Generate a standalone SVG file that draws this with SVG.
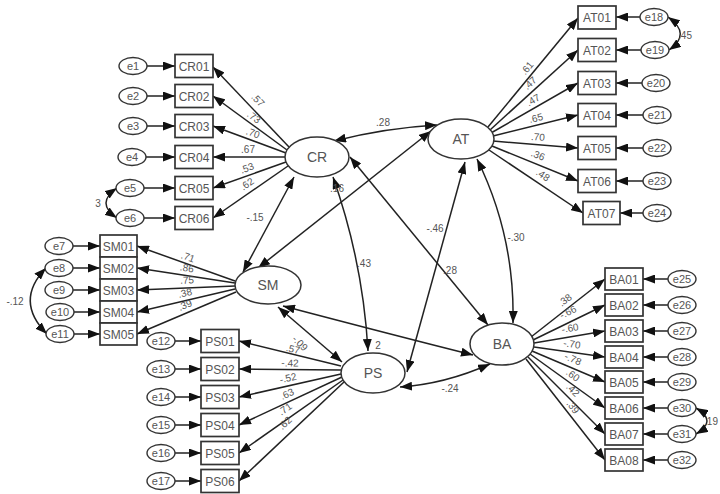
<svg xmlns="http://www.w3.org/2000/svg" width="720" height="494" viewBox="0 0 720 494">
<defs>
<marker id="ah" viewBox="0 0 12 9" refX="12" refY="4.5" markerWidth="12" markerHeight="9" markerUnits="userSpaceOnUse" orient="auto-start-reverse"><path d="M0,0 L12,4.5 L0,9 z" fill="#111"/></marker>
<style>
.bx{fill:#fff;stroke:#333;stroke-width:1.7}
.lv{fill:#fff;stroke:#333;stroke-width:1.5}
.er{fill:#fff;stroke:#333;stroke-width:1.4}
.t{font-family:"Liberation Sans",Arial,sans-serif;fill:#555;text-anchor:middle}
.bt{font-size:12px}
.lt{font-size:14px}
.et{font-size:11px}
.c{font-family:"Liberation Sans",Arial,sans-serif;fill:#555;font-size:10px;text-anchor:middle}
.a{fill:none;stroke:#222;stroke-width:1.5;marker-end:url(#ah)}
.d{fill:none;stroke:#222;stroke-width:1.5;marker-end:url(#ah);marker-start:url(#ah)}
</style>
</defs>
<rect width="720" height="494" fill="#fff"/>

<g id="connectors">
<line class="a" x1="289" y1="147" x2="213" y2="67"/>
<line class="a" x1="287" y1="150" x2="213" y2="96"/>
<line class="a" x1="286" y1="153" x2="213" y2="126"/>
<line class="a" x1="285" y1="157" x2="213" y2="157"/>
<line class="a" x1="286" y1="162" x2="213" y2="188"/>
<line class="a" x1="288" y1="166" x2="213" y2="218"/>
<line class="a" x1="488" y1="127" x2="578" y2="18"/>
<line class="a" x1="490" y1="130" x2="578" y2="50"/>
<line class="a" x1="491" y1="133" x2="578" y2="83"/>
<line class="a" x1="493" y1="136" x2="578" y2="115"/>
<line class="a" x1="493" y1="141" x2="578" y2="148"/>
<line class="a" x1="492" y1="146" x2="578" y2="181"/>
<line class="a" x1="489" y1="150" x2="583" y2="213"/>
<line class="a" x1="235" y1="281" x2="137" y2="246"/>
<line class="a" x1="235" y1="283" x2="137" y2="268"/>
<line class="a" x1="235" y1="286" x2="137" y2="290"/>
<line class="a" x1="235" y1="289" x2="137" y2="312"/>
<line class="a" x1="236" y1="292" x2="137" y2="334"/>
<line class="a" x1="341" y1="366" x2="239" y2="341"/>
<line class="a" x1="341" y1="370" x2="239" y2="369"/>
<line class="a" x1="341" y1="374" x2="239" y2="397"/>
<line class="a" x1="342" y1="377" x2="239" y2="425"/>
<line class="a" x1="343" y1="380" x2="239" y2="453"/>
<line class="a" x1="344" y1="382" x2="239" y2="481"/>
<line class="a" x1="531" y1="337" x2="605" y2="279"/>
<line class="a" x1="533" y1="340" x2="605" y2="305"/>
<line class="a" x1="534" y1="343" x2="605" y2="331"/>
<line class="a" x1="534" y1="347" x2="605" y2="357"/>
<line class="a" x1="532" y1="351" x2="605" y2="382"/>
<line class="a" x1="530" y1="354" x2="605" y2="408"/>
<line class="a" x1="528" y1="357" x2="605" y2="434"/>
<line class="a" x1="526" y1="359" x2="605" y2="460"/>
<line class="a" x1="147" y1="66" x2="175" y2="66"/>
<line class="a" x1="147" y1="96" x2="175" y2="96"/>
<line class="a" x1="147" y1="126" x2="175" y2="126"/>
<line class="a" x1="146" y1="157" x2="175" y2="157"/>
<line class="a" x1="144" y1="188" x2="175" y2="188"/>
<line class="a" x1="144" y1="218" x2="175" y2="218"/>
<line class="a" x1="640" y1="17" x2="616" y2="17"/>
<line class="a" x1="641" y1="50" x2="616" y2="50"/>
<line class="a" x1="642" y1="83" x2="616" y2="83"/>
<line class="a" x1="643" y1="115" x2="616" y2="115"/>
<line class="a" x1="643" y1="148" x2="616" y2="148"/>
<line class="a" x1="643" y1="181" x2="616" y2="181"/>
<line class="a" x1="643" y1="213" x2="620" y2="213"/>
<line class="a" x1="73" y1="246" x2="100" y2="246"/>
<line class="a" x1="73" y1="268" x2="100" y2="268"/>
<line class="a" x1="73" y1="290" x2="100" y2="290"/>
<line class="a" x1="74" y1="312" x2="100" y2="312"/>
<line class="a" x1="74" y1="334" x2="100" y2="334"/>
<line class="a" x1="175" y1="341" x2="201" y2="341"/>
<line class="a" x1="175" y1="369" x2="201" y2="369"/>
<line class="a" x1="175" y1="397" x2="201" y2="397"/>
<line class="a" x1="175" y1="425" x2="201" y2="425"/>
<line class="a" x1="175" y1="453" x2="201" y2="453"/>
<line class="a" x1="175" y1="481" x2="201" y2="481"/>
<line class="a" x1="668" y1="279" x2="643" y2="279"/>
<line class="a" x1="668" y1="305" x2="643" y2="305"/>
<line class="a" x1="668" y1="331" x2="643" y2="331"/>
<line class="a" x1="668" y1="357" x2="643" y2="357"/>
<line class="a" x1="668" y1="382" x2="643" y2="382"/>
<line class="a" x1="668" y1="408" x2="643" y2="408"/>
<line class="a" x1="668" y1="434" x2="643" y2="434"/>
<line class="a" x1="668" y1="460" x2="643" y2="460"/>
<path class="d" d="M117,188 Q95,203 117,218"/>
<path class="d" d="M46,268 Q14,301 47,334"/>
<path class="d" d="M668,17 Q692,34 669,50"/>
<path class="d" d="M696,408 Q718,421 696,434"/>
<path class="d" d="M334,141 Q385,128 437,125"/>
<line class="d" x1="294" y1="177" x2="243" y2="272"/>
<path class="d" d="M333,177 Q363,262 368,351"/>
<line class="d" x1="350" y1="157" x2="488" y2="325"/>
<line class="d" x1="431" y1="131" x2="258" y2="268"/>
<line class="d" x1="465" y1="162" x2="407" y2="372"/>
<path class="d" d="M477,159 Q515,236 513,323"/>
<line class="d" x1="278" y1="307" x2="342" y2="362"/>
<path class="d" d="M283,306 Q397,336 473,355"/>
<path class="d" d="M400,387 Q445,384 490,364"/>
</g>

<g id="labels">
<text class="c" transform="translate(258,100) rotate(46)" y="3.5">.57</text>
<text class="c" transform="translate(254,117) rotate(36)" y="3.5">.73</text>
<text class="c" transform="translate(253,133) rotate(20)" y="3.5">.70</text>
<text class="c" transform="translate(248,149)" y="3.5">.67</text>
<text class="c" transform="translate(247,168) rotate(-20)" y="3.5">.53</text>
<text class="c" transform="translate(247,184) rotate(-35)" y="3.5">.62</text>
<text class="c" transform="translate(527,68) rotate(-50)" y="3.5">.61</text>
<text class="c" transform="translate(530,83) rotate(-42)" y="3.5">.47</text>
<text class="c" transform="translate(533,100) rotate(-30)" y="3.5">.47</text>
<text class="c" transform="translate(536,118) rotate(-14)" y="3.5">.65</text>
<text class="c" transform="translate(538,137) rotate(5)" y="3.5">.70</text>
<text class="c" transform="translate(538,155) rotate(22)" y="3.5">.36</text>
<text class="c" transform="translate(543,175) rotate(34)" y="3.5">.48</text>
<text class="c" transform="translate(188,257) rotate(20)" y="3.5">.71</text>
<text class="c" transform="translate(187,268) rotate(9)" y="3.5">.86</text>
<text class="c" transform="translate(187,280) rotate(-2)" y="3.5">.75</text>
<text class="c" transform="translate(185,293) rotate(-13)" y="3.5">.38</text>
<text class="c" transform="translate(185,305) rotate(-23)" y="3.5">.39</text>
<text class="c" transform="translate(293,349) rotate(14)" y="3.5">.57</text>
<text class="c" transform="translate(290,363) rotate(1)" y="3.5">-.42</text>
<text class="c" transform="translate(288,378) rotate(-13)" y="3.5">-.52</text>
<text class="c" transform="translate(287,394) rotate(-25)" y="3.5">.63</text>
<text class="c" transform="translate(285,409) rotate(-35)" y="3.5">.71</text>
<text class="c" transform="translate(285,423) rotate(-43)" y="3.5">.62</text>
<text class="c" transform="translate(565,300) rotate(-38)" y="3.5">.38</text>
<text class="c" transform="translate(568,312) rotate(-26)" y="3.5">-.66</text>
<text class="c" transform="translate(570,328) rotate(-10)" y="3.5">-.60</text>
<text class="c" transform="translate(572,344) rotate(8)" y="3.5">-.70</text>
<text class="c" transform="translate(573,359) rotate(23)" y="3.5">-.78</text>
<text class="c" transform="translate(573,375) rotate(36)" y="3.5">.60</text>
<text class="c" transform="translate(573,390) rotate(45)" y="3.5">.42</text>
<text class="c" transform="translate(573,407) rotate(52)" y="3.5">.39</text>
<text class="c" x="383" y="126">.28</text>
<text class="c" x="255" y="221">-.15</text>
<text class="c" x="337" y="192">.16</text>
<text class="c" x="364" y="267">.43</text>
<text class="c" x="435" y="232">-.46</text>
<text class="c" x="450" y="274">.28</text>
<text class="c" x="516" y="241">-.30</text>
<text class="c" transform="translate(300,343) rotate(45)" y="3.5">-.09</text>
<text class="c" x="378" y="349">2</text>
<text class="c" x="450" y="392">-.24</text>
<text class="c" x="98" y="207">3</text>
<text class="c" x="15" y="305">-.12</text>
<text class="c" x="685" y="39">.45</text>
<text class="c" x="718" y="425" style="text-anchor:end">.19</text>
</g>

<g id="CR"><ellipse class="lv" cx="317" cy="157" rx="32" ry="20"/><text class="t lt" x="317" y="162">CR</text></g>
<g id="AT"><ellipse class="lv" cx="461" cy="139" rx="33" ry="20"/><text class="t lt" x="461" y="144">AT</text></g>
<g id="SM"><ellipse class="lv" cx="268" cy="285" rx="33" ry="19"/><text class="t lt" x="268" y="290">SM</text></g>
<g id="PS"><ellipse class="lv" cx="373" cy="373" rx="32" ry="20"/><text class="t lt" x="373" y="378">PS</text></g>
<g id="BA"><ellipse class="lv" cx="502" cy="344" rx="32" ry="21"/><text class="t lt" x="502" y="349">BA</text></g>

<g id="CR01"><rect class="bx" x="175" y="54.5" width="38" height="23"/><text class="t bt" x="194" y="70.5">CR01</text></g>
<g id="CR02"><rect class="bx" x="175" y="84.5" width="38" height="23"/><text class="t bt" x="194" y="100.5">CR02</text></g>
<g id="CR03"><rect class="bx" x="175" y="114.5" width="38" height="23"/><text class="t bt" x="194" y="130.5">CR03</text></g>
<g id="CR04"><rect class="bx" x="175" y="145.5" width="38" height="23"/><text class="t bt" x="194" y="161.5">CR04</text></g>
<g id="CR05"><rect class="bx" x="175" y="176.5" width="38" height="23"/><text class="t bt" x="194" y="192.5">CR05</text></g>
<g id="CR06"><rect class="bx" x="175" y="206.5" width="38" height="23"/><text class="t bt" x="194" y="222.5">CR06</text></g>

<g id="AT01"><rect class="bx" x="578" y="6" width="38" height="23"/><text class="t bt" x="597" y="22">AT01</text></g>
<g id="AT02"><rect class="bx" x="578" y="38.5" width="38" height="23"/><text class="t bt" x="597" y="54.5">AT02</text></g>
<g id="AT03"><rect class="bx" x="578" y="71.5" width="38" height="23"/><text class="t bt" x="597" y="87.5">AT03</text></g>
<g id="AT04"><rect class="bx" x="578" y="103.5" width="38" height="23"/><text class="t bt" x="597" y="119.5">AT04</text></g>
<g id="AT05"><rect class="bx" x="578" y="136.5" width="38" height="23"/><text class="t bt" x="597" y="152.5">AT05</text></g>
<g id="AT06"><rect class="bx" x="578" y="169.5" width="38" height="23"/><text class="t bt" x="597" y="185.5">AT06</text></g>
<g id="AT07"><rect class="bx" x="583" y="201.5" width="37" height="23"/><text class="t bt" x="601.5" y="217.5">AT07</text></g>

<g id="SM01"><rect class="bx" x="100" y="235" width="37" height="22"/><text class="t bt" x="118.5" y="250.5">SM01</text></g>
<g id="SM02"><rect class="bx" x="100" y="257" width="37" height="22"/><text class="t bt" x="118.5" y="272.5">SM02</text></g>
<g id="SM03"><rect class="bx" x="100" y="279" width="37" height="22"/><text class="t bt" x="118.5" y="294.5">SM03</text></g>
<g id="SM04"><rect class="bx" x="100" y="301" width="37" height="22"/><text class="t bt" x="118.5" y="316.5">SM04</text></g>
<g id="SM05"><rect class="bx" x="100" y="323" width="37" height="22"/><text class="t bt" x="118.5" y="338.5">SM05</text></g>

<g id="PS01"><rect class="bx" x="201" y="329.5" width="38" height="23"/><text class="t bt" x="220" y="345.5">PS01</text></g>
<g id="PS02"><rect class="bx" x="201" y="357.5" width="38" height="23"/><text class="t bt" x="220" y="373.5">PS02</text></g>
<g id="PS03"><rect class="bx" x="201" y="385.5" width="38" height="23"/><text class="t bt" x="220" y="401.5">PS03</text></g>
<g id="PS04"><rect class="bx" x="201" y="413.5" width="38" height="23"/><text class="t bt" x="220" y="429.5">PS04</text></g>
<g id="PS05"><rect class="bx" x="201" y="441.5" width="38" height="23"/><text class="t bt" x="220" y="457.5">PS05</text></g>
<g id="PS06"><rect class="bx" x="201" y="469.5" width="38" height="23"/><text class="t bt" x="220" y="485.5">PS06</text></g>

<g id="BA01"><rect class="bx" x="605" y="268" width="38" height="22"/><text class="t bt" x="624" y="283.5">BA01</text></g>
<g id="BA02"><rect class="bx" x="605" y="294" width="38" height="22"/><text class="t bt" x="624" y="309.5">BA02</text></g>
<g id="BA03"><rect class="bx" x="605" y="320" width="38" height="22"/><text class="t bt" x="624" y="335.5">BA03</text></g>
<g id="BA04"><rect class="bx" x="605" y="346" width="38" height="22"/><text class="t bt" x="624" y="361.5">BA04</text></g>
<g id="BA05"><rect class="bx" x="605" y="371" width="38" height="22"/><text class="t bt" x="624" y="386.5">BA05</text></g>
<g id="BA06"><rect class="bx" x="605" y="397" width="38" height="22"/><text class="t bt" x="624" y="412.5">BA06</text></g>
<g id="BA07"><rect class="bx" x="605" y="423" width="38" height="22"/><text class="t bt" x="624" y="438.5">BA07</text></g>
<g id="BA08"><rect class="bx" x="605" y="449" width="38" height="22"/><text class="t bt" x="624" y="464.5">BA08</text></g>

<g id="e1"><ellipse class="er" cx="133" cy="66" rx="14" ry="8.5"/><text class="t et" x="133" y="70">e1</text></g>
<g id="e2"><ellipse class="er" cx="133" cy="96" rx="14" ry="8.5"/><text class="t et" x="133" y="100">e2</text></g>
<g id="e3"><ellipse class="er" cx="133" cy="126" rx="14" ry="8.5"/><text class="t et" x="133" y="130">e3</text></g>
<g id="e4"><ellipse class="er" cx="132" cy="157" rx="14" ry="8.5"/><text class="t et" x="132" y="161">e4</text></g>
<g id="e5"><ellipse class="er" cx="130" cy="188" rx="14" ry="8.5"/><text class="t et" x="130" y="192">e5</text></g>
<g id="e6"><ellipse class="er" cx="130" cy="218" rx="14" ry="8.5"/><text class="t et" x="130" y="222">e6</text></g>
<g id="e7"><ellipse class="er" cx="59" cy="246" rx="14" ry="8.5"/><text class="t et" x="59" y="250">e7</text></g>
<g id="e8"><ellipse class="er" cx="59" cy="268" rx="14" ry="8.5"/><text class="t et" x="59" y="272">e8</text></g>
<g id="e9"><ellipse class="er" cx="59" cy="290" rx="14" ry="8.5"/><text class="t et" x="59" y="294">e9</text></g>
<g id="e10"><ellipse class="er" cx="60" cy="312" rx="14" ry="8.5"/><text class="t et" x="60" y="316">e10</text></g>
<g id="e11"><ellipse class="er" cx="60" cy="334" rx="14" ry="8.5"/><text class="t et" x="60" y="338">e11</text></g>
<g id="e12"><ellipse class="er" cx="161" cy="341" rx="14" ry="8.5"/><text class="t et" x="161" y="345">e12</text></g>
<g id="e13"><ellipse class="er" cx="161" cy="369" rx="14" ry="8.5"/><text class="t et" x="161" y="373">e13</text></g>
<g id="e14"><ellipse class="er" cx="161" cy="397" rx="14" ry="8.5"/><text class="t et" x="161" y="401">e14</text></g>
<g id="e15"><ellipse class="er" cx="161" cy="425" rx="14" ry="8.5"/><text class="t et" x="161" y="429">e15</text></g>
<g id="e16"><ellipse class="er" cx="161" cy="453" rx="14" ry="8.5"/><text class="t et" x="161" y="457">e16</text></g>
<g id="e17"><ellipse class="er" cx="161" cy="481" rx="14" ry="8.5"/><text class="t et" x="161" y="485">e17</text></g>
<g id="e18"><ellipse class="er" cx="654" cy="17" rx="14" ry="8.5"/><text class="t et" x="654" y="21">e18</text></g>
<g id="e19"><ellipse class="er" cx="655" cy="50" rx="14" ry="8.5"/><text class="t et" x="655" y="54">e19</text></g>
<g id="e20"><ellipse class="er" cx="656" cy="83" rx="14" ry="8.5"/><text class="t et" x="656" y="87">e20</text></g>
<g id="e21"><ellipse class="er" cx="657" cy="115" rx="14" ry="8.5"/><text class="t et" x="657" y="119">e21</text></g>
<g id="e22"><ellipse class="er" cx="657" cy="148" rx="14" ry="8.5"/><text class="t et" x="657" y="152">e22</text></g>
<g id="e23"><ellipse class="er" cx="657" cy="181" rx="14" ry="8.5"/><text class="t et" x="657" y="185">e23</text></g>
<g id="e24"><ellipse class="er" cx="657" cy="213" rx="14" ry="8.5"/><text class="t et" x="657" y="217">e24</text></g>
<g id="e25"><ellipse class="er" cx="682" cy="279" rx="14" ry="8.5"/><text class="t et" x="682" y="283">e25</text></g>
<g id="e26"><ellipse class="er" cx="682" cy="305" rx="14" ry="8.5"/><text class="t et" x="682" y="309">e26</text></g>
<g id="e27"><ellipse class="er" cx="682" cy="331" rx="14" ry="8.5"/><text class="t et" x="682" y="335">e27</text></g>
<g id="e28"><ellipse class="er" cx="682" cy="357" rx="14" ry="8.5"/><text class="t et" x="682" y="361">e28</text></g>
<g id="e29"><ellipse class="er" cx="682" cy="382" rx="14" ry="8.5"/><text class="t et" x="682" y="386">e29</text></g>
<g id="e30"><ellipse class="er" cx="682" cy="408" rx="14" ry="8.5"/><text class="t et" x="682" y="412">e30</text></g>
<g id="e31"><ellipse class="er" cx="682" cy="434" rx="14" ry="8.5"/><text class="t et" x="682" y="438">e31</text></g>
<g id="e32"><ellipse class="er" cx="682" cy="460" rx="14" ry="8.5"/><text class="t et" x="682" y="464">e32</text></g>
</svg>
